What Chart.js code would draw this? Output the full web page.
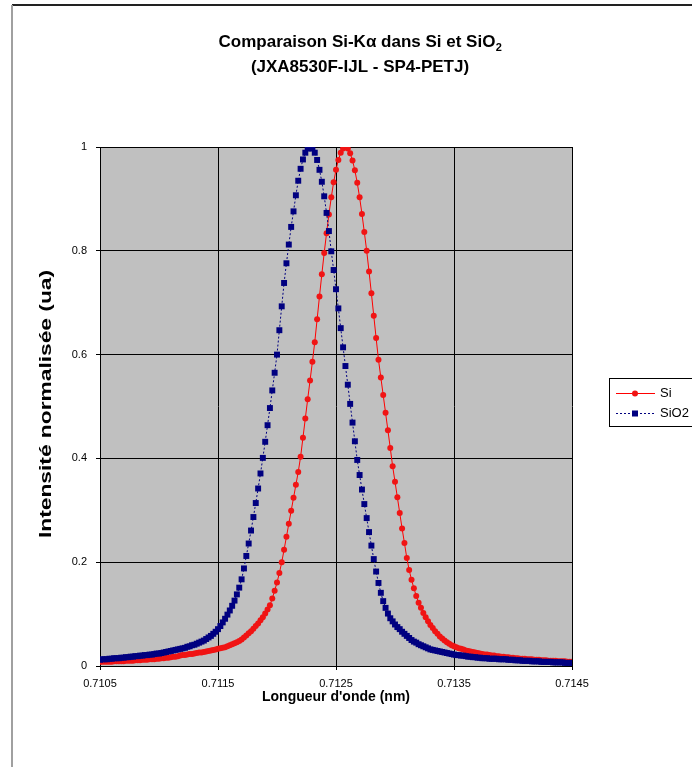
<!DOCTYPE html>
<html>
<head>
  <title>Comparaison Si-Kα dans Si et SiO2</title>
  <script src="https://cdn.jsdelivr.net/npm/chart.js"></script>
  <style>
    body { margin: 0; background: #fff; }
  </style>
</head>
<body>
<canvas id="myChart" width="692" height="767"></canvas>
<script>
  // wavelength (nm), one point every 0.00002 nm
  const wavelengths = [
    0.71050, 0.71052, 0.71054, 0.71056, 0.71058, 0.71060, 0.71062, 0.71064, 0.71066, 0.71068,
    0.71070, 0.71072, 0.71074, 0.71076, 0.71078, 0.71080, 0.71082, 0.71084, 0.71086, 0.71088,
    0.71090, 0.71092, 0.71094, 0.71096, 0.71098, 0.71100, 0.71102, 0.71104, 0.71106, 0.71108,
    0.71110, 0.71112, 0.71114, 0.71116, 0.71118, 0.71120, 0.71122, 0.71124, 0.71126, 0.71128,
    0.71130, 0.71132, 0.71134, 0.71136, 0.71138, 0.71140, 0.71142, 0.71144, 0.71146, 0.71148,
    0.71150, 0.71152, 0.71154, 0.71156, 0.71158, 0.71160, 0.71162, 0.71164, 0.71166, 0.71168,
    0.71170, 0.71172, 0.71174, 0.71176, 0.71178, 0.71180, 0.71182, 0.71184, 0.71186, 0.71188,
    0.71190, 0.71192, 0.71194, 0.71196, 0.71198, 0.71200, 0.71202, 0.71204, 0.71206, 0.71208,
    0.71210, 0.71212, 0.71214, 0.71216, 0.71218, 0.71220, 0.71222, 0.71224, 0.71226, 0.71228,
    0.71230, 0.71232, 0.71234, 0.71236, 0.71238, 0.71240, 0.71242, 0.71244, 0.71246, 0.71248,
    0.71250, 0.71252, 0.71254, 0.71256, 0.71258, 0.71260, 0.71262, 0.71264, 0.71266, 0.71268,
    0.71270, 0.71272, 0.71274, 0.71276, 0.71278, 0.71280, 0.71282, 0.71284, 0.71286, 0.71288,
    0.71290, 0.71292, 0.71294, 0.71296, 0.71298, 0.71300, 0.71302, 0.71304, 0.71306, 0.71308,
    0.71310, 0.71312, 0.71314, 0.71316, 0.71318, 0.71320, 0.71322, 0.71324, 0.71326, 0.71328,
    0.71330, 0.71332, 0.71334, 0.71336, 0.71338, 0.71340, 0.71342, 0.71344, 0.71346, 0.71348,
    0.71350, 0.71352, 0.71354, 0.71356, 0.71358, 0.71360, 0.71362, 0.71364, 0.71366, 0.71368,
    0.71370, 0.71372, 0.71374, 0.71376, 0.71378, 0.71380, 0.71382, 0.71384, 0.71386, 0.71388,
    0.71390, 0.71392, 0.71394, 0.71396, 0.71398, 0.71400, 0.71402, 0.71404, 0.71406, 0.71408,
    0.71410, 0.71412, 0.71414, 0.71416, 0.71418, 0.71420, 0.71422, 0.71424, 0.71426, 0.71428,
    0.71430, 0.71432, 0.71434, 0.71436, 0.71438, 0.71440, 0.71442, 0.71444, 0.71446, 0.71448,
    0.71450
  ];

  // Si K-alpha in Si, normalised intensity
  const siValues = [
    0.008, 0.008, 0.008, 0.008, 0.008, 0.008, 0.009, 0.009, 0.009, 0.009,
    0.009, 0.010, 0.010, 0.010, 0.010, 0.011, 0.011, 0.011, 0.012, 0.012,
    0.012, 0.013, 0.013, 0.013, 0.014, 0.014, 0.015, 0.015, 0.016, 0.016,
    0.017, 0.018, 0.018, 0.019, 0.020, 0.021, 0.021, 0.022, 0.023, 0.023,
    0.024, 0.025, 0.026, 0.026, 0.027, 0.028, 0.029, 0.030, 0.031, 0.032,
    0.033, 0.034, 0.035, 0.036, 0.038, 0.040, 0.042, 0.044, 0.046, 0.048,
    0.051, 0.055, 0.059, 0.063, 0.067, 0.072, 0.077, 0.082, 0.088, 0.094,
    0.101, 0.109, 0.117, 0.130, 0.145, 0.161, 0.179, 0.200, 0.224, 0.249,
    0.274, 0.299, 0.324, 0.349, 0.374, 0.403, 0.440, 0.477, 0.514, 0.550,
    0.586, 0.624, 0.668, 0.712, 0.755, 0.796, 0.834, 0.870, 0.903, 0.932,
    0.956, 0.975, 0.989, 0.997, 1.000, 0.997, 0.988, 0.974, 0.955, 0.931,
    0.903, 0.871, 0.836, 0.800, 0.760, 0.718, 0.675, 0.632, 0.590, 0.556,
    0.522, 0.488, 0.454, 0.420, 0.385, 0.355, 0.325, 0.295, 0.265, 0.237,
    0.208, 0.185, 0.166, 0.150, 0.135, 0.122, 0.112, 0.102, 0.094, 0.086,
    0.079, 0.073, 0.067, 0.062, 0.057, 0.053, 0.049, 0.046, 0.043, 0.040,
    0.038, 0.036, 0.034, 0.033, 0.032, 0.030, 0.029, 0.028, 0.027, 0.026,
    0.025, 0.024, 0.023, 0.022, 0.022, 0.021, 0.020, 0.020, 0.019, 0.019,
    0.018, 0.018, 0.017, 0.017, 0.016, 0.016, 0.015, 0.015, 0.014, 0.014,
    0.014, 0.013, 0.013, 0.013, 0.012, 0.012, 0.012, 0.011, 0.011, 0.011,
    0.010, 0.010, 0.010, 0.010, 0.009, 0.009, 0.009, 0.009, 0.008, 0.008,
    0.008
  ];

  // Si K-alpha in SiO2, normalised intensity
  const sio2Values = [
    0.012, 0.013, 0.013, 0.013, 0.014, 0.014, 0.015, 0.015, 0.015, 0.016,
    0.016, 0.017, 0.017, 0.018, 0.018, 0.019, 0.019, 0.020, 0.020, 0.021,
    0.021, 0.022, 0.022, 0.023, 0.024, 0.024, 0.025, 0.026, 0.027, 0.028,
    0.029, 0.030, 0.031, 0.032, 0.033, 0.034, 0.035, 0.037, 0.038, 0.040,
    0.041, 0.043, 0.045, 0.047, 0.049, 0.052, 0.055, 0.058, 0.062, 0.066,
    0.071, 0.077, 0.084, 0.091, 0.099, 0.107, 0.116, 0.126, 0.138, 0.151,
    0.167, 0.188, 0.212, 0.236, 0.261, 0.287, 0.314, 0.342, 0.371, 0.401,
    0.432, 0.464, 0.497, 0.531, 0.565, 0.600, 0.647, 0.693, 0.738, 0.776,
    0.812, 0.846, 0.876, 0.907, 0.935, 0.958, 0.976, 0.989, 0.997, 1.000,
    0.997, 0.989, 0.975, 0.956, 0.933, 0.905, 0.873, 0.838, 0.799, 0.763,
    0.726, 0.689, 0.651, 0.614, 0.578, 0.542, 0.505, 0.469, 0.433, 0.397,
    0.368, 0.340, 0.312, 0.285, 0.258, 0.232, 0.206, 0.182, 0.160, 0.141,
    0.125, 0.112, 0.101, 0.092, 0.086, 0.080, 0.075, 0.071, 0.066, 0.062,
    0.058, 0.054, 0.050, 0.047, 0.045, 0.042, 0.040, 0.038, 0.036, 0.034,
    0.032, 0.031, 0.030, 0.029, 0.028, 0.027, 0.026, 0.025, 0.024, 0.023,
    0.022, 0.021, 0.021, 0.020, 0.020, 0.019, 0.018, 0.018, 0.017, 0.017,
    0.016, 0.016, 0.015, 0.015, 0.015, 0.014, 0.014, 0.014, 0.014, 0.013,
    0.013, 0.013, 0.013, 0.012, 0.012, 0.012, 0.011, 0.011, 0.011, 0.010,
    0.010, 0.010, 0.010, 0.009, 0.009, 0.009, 0.009, 0.008, 0.008, 0.008,
    0.008, 0.008, 0.007, 0.007, 0.007, 0.007, 0.007, 0.006, 0.006, 0.006,
    0.006
  ];

  const seriesNames = ['Si', 'SiO2'];
  const xTickValues = [0.7105, 0.7115, 0.7125, 0.7135, 0.7145];
  const xTickLabels = ['0.7105', '0.7115', '0.7125', '0.7135', '0.7145'];
  const yTickLabels = ['0', '0.2', '0.4', '0.6', '0.8', '1'];
  const titleMain = 'Comparaison Si-Kα dans Si et SiO';
  const titleSub = '2';
  const titleLine2 = '(JXA8530F-IJL - SP4-PETJ)';
  const xTitle = "Longueur d'onde (nm)";
  const yTitle = 'Intensité normalisée (ua)';

  const FONT = '"Liberation Sans", Arial, sans-serif';

  // grey plot area + outer frame
  const backgroundPlugin = {
    id: 'plotBackground',
    beforeDraw(chart) {
      const { ctx, chartArea } = chart;
      ctx.save();
      ctx.fillStyle = '#c0c0c0';
      ctx.fillRect(chartArea.left, chartArea.top, chartArea.right - chartArea.left, chartArea.bottom - chartArea.top);
      ctx.strokeStyle = '#222';
      ctx.lineWidth = 2;
      ctx.beginPath();
      ctx.moveTo(12, 5);
      ctx.lineTo(692, 5);
      ctx.stroke();
      ctx.strokeStyle = '#a0a0a0';
      ctx.beginPath();
      ctx.moveTo(12, 5);
      ctx.lineTo(12, 767);
      ctx.stroke();
      ctx.restore();
    }
  };

  // title with subscript, y axis title (drawn tall, as in the scan)
  const titlePlugin = {
    id: 'subTitle',
    afterDraw(chart) {
      const ctx = chart.ctx;
      ctx.save();
      ctx.fillStyle = '#000';
      ctx.textBaseline = 'middle';
      ctx.font = 'bold 17px ' + FONT;
      const w1 = ctx.measureText(titleMain).width;
      ctx.font = 'bold 11px ' + FONT;
      const w2 = ctx.measureText(titleSub).width;
      const cx = 360;
      const x = cx - (w1 + w2) / 2;
      ctx.font = 'bold 17px ' + FONT;
      ctx.textAlign = 'left';
      ctx.fillText(titleMain, x, 42);
      ctx.font = 'bold 11px ' + FONT;
      ctx.fillText(titleSub, x + w1 + 0.5, 48);
      ctx.font = 'bold 17px ' + FONT;
      ctx.textAlign = 'center';
      ctx.fillText(titleLine2, cx, 67);

      ctx.translate(47, 404);
      ctx.rotate(-Math.PI / 2);
      ctx.font = 'bold 16px ' + FONT;
      const wy = ctx.measureText(yTitle).width;
      ctx.scale(268 / wy, 1);
      ctx.fillText(yTitle, 0, 0);
      ctx.restore();
    }
  };

  // boxed legend on the right, partly cut by the edge
  const legendPlugin = {
    id: 'boxLegend',
    afterDraw(chart) {
      const ctx = chart.ctx;
      ctx.save();
      ctx.fillStyle = '#fff';
      ctx.fillRect(609.5, 378.5, 100, 48);
      ctx.strokeStyle = '#000';
      ctx.lineWidth = 1;
      ctx.strokeRect(609.5, 378.5, 100, 48);
      chart.data.datasets.forEach((ds, i) => {
        const y = 393.5 + i * 20;
        ctx.strokeStyle = ds.borderColor;
        ctx.setLineDash(ds.borderDash || []);
        ctx.beginPath();
        ctx.moveTo(616, y);
        ctx.lineTo(655, y);
        ctx.stroke();
        ctx.setLineDash([]);
        ctx.fillStyle = ds.pointBackgroundColor;
        if (ds.pointStyle === 'rect') {
          ctx.fillRect(632, y - 3, 6, 6);
        } else {
          ctx.beginPath();
          ctx.arc(635, y, ds.pointRadius, 0, Math.PI * 2);
          ctx.fill();
        }
        ctx.fillStyle = '#000';
        ctx.font = '13px ' + FONT;
        ctx.textBaseline = 'middle';
        ctx.fillText(ds.label, 660, y);
      });
      ctx.restore();
    }
  };

  window.onload = function() {
    const ctx = document.getElementById('myChart').getContext('2d');

    new Chart(ctx, {
      type: 'line',
      data: {
        datasets: [{
          label: seriesNames[0],
          data: wavelengths.map((w, i) => ({ x: w, y: siValues[i] })),
          borderColor: '#ff0000',
          borderWidth: 1,
          pointStyle: 'circle',
          pointRadius: 3,
          pointBackgroundColor: '#f01414',
          pointBorderWidth: 0,
          tension: 0,
          fill: false,
          order: 1
        }, {
          label: seriesNames[1],
          data: wavelengths.map((w, i) => ({ x: w, y: sio2Values[i] })),
          borderColor: '#000080',
          borderWidth: 1,
          borderDash: [2, 2],
          pointStyle: 'rect',
          pointRadius: 4.2,
          pointBackgroundColor: '#000080',
          pointBorderWidth: 0,
          tension: 0,
          fill: false,
          order: 0
        }]
      },
      options: {
        responsive: false,
        animation: false,
        devicePixelRatio: 1,
        layout: {
          padding: { left: 38, top: 147, right: 120, bottom: 61 }
        },
        plugins: {
          legend: { display: false },
          tooltip: { enabled: false }
        },
        scales: {
          x: {
            type: 'linear',
            min: 0.7105,
            max: 0.7145,
            afterBuildTicks: (scale) => {
              scale.ticks = xTickValues.map(v => ({ value: v }));
            },
            afterFit: (scale) => { scale.height = 40; },
            grid: { color: '#000', lineWidth: 1, tickLength: 4 },
            border: { display: true, color: '#000', width: 1 },
            ticks: {
              autoSkip: false,
              maxRotation: 0,
              padding: 7,
              color: '#000',
              font: { family: FONT, size: 11 },
              callback: (value, index) => xTickLabels[index]
            },
            title: {
              display: true,
              text: xTitle,
              color: '#000',
              padding: 0,
              font: { family: FONT, size: 14, weight: 'bold' }
            }
          },
          y: {
            min: 0,
            max: 1,
            afterFit: (scale) => { scale.width = 62; },
            grid: { color: '#000', lineWidth: 1, tickLength: 4 },
            border: { display: true, color: '#000', width: 1 },
            ticks: {
              stepSize: 0.2,
              padding: 9,
              color: '#000',
              font: { family: FONT, size: 11 },
              callback: (value, index) => yTickLabels[index]
            }
          }
        }
      },
      plugins: [backgroundPlugin, titlePlugin, legendPlugin]
    });
  };
</script>
</body>
</html>
